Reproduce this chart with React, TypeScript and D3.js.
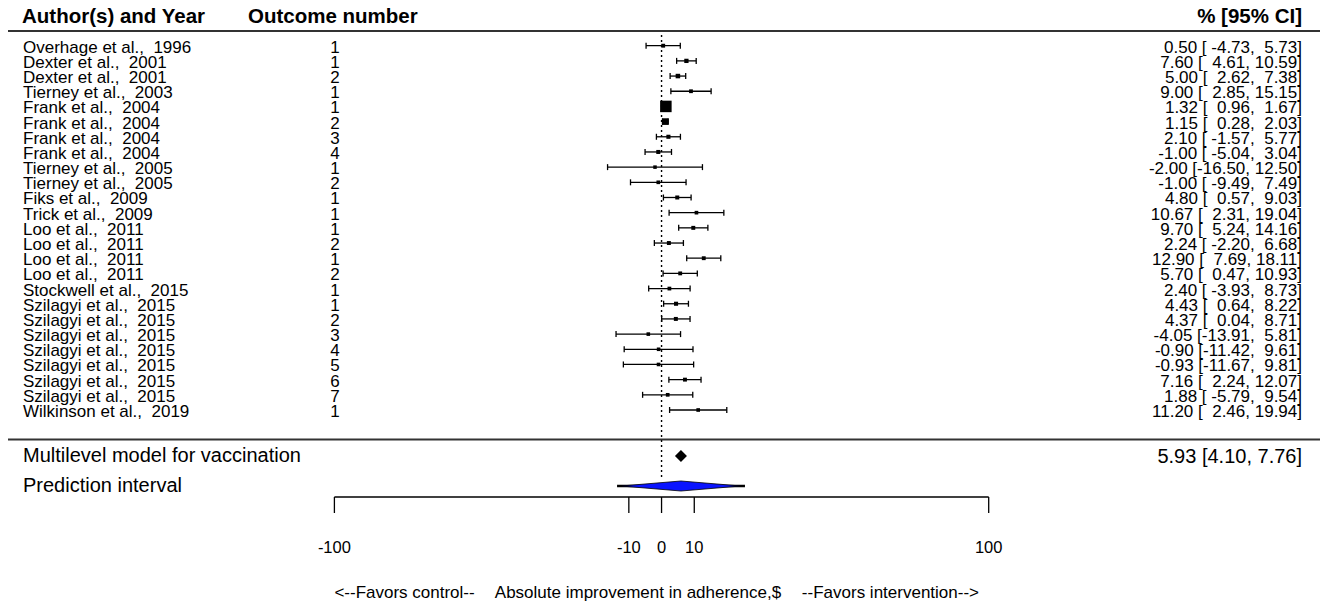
import React, { useEffect, useRef } from "react";
import * as d3 from "d3";

// study rows, top to bottom
const authors = [
  "Overhage et al.,  1996",
  "Dexter et al.,  2001",
  "Dexter et al.,  2001",
  "Tierney et al.,  2003",
  "Frank et al.,  2004",
  "Frank et al.,  2004",
  "Frank et al.,  2004",
  "Frank et al.,  2004",
  "Tierney et al.,  2005",
  "Tierney et al.,  2005",
  "Fiks et al.,  2009",
  "Trick et al.,  2009",
  "Loo et al.,  2011",
  "Loo et al.,  2011",
  "Loo et al.,  2011",
  "Loo et al.,  2011",
  "Stockwell et al.,  2015",
  "Szilagyi et al.,  2015",
  "Szilagyi et al.,  2015",
  "Szilagyi et al.,  2015",
  "Szilagyi et al.,  2015",
  "Szilagyi et al.,  2015",
  "Szilagyi et al.,  2015",
  "Szilagyi et al.,  2015",
  "Wilkinson et al.,  2019",
];
const outcomes = [1, 1, 2, 1, 1, 2, 3, 4, 1, 2, 1, 1, 1, 2, 1, 2, 1, 1, 2, 3, 4, 5, 6, 7, 1];
const estimates = [
  0.5, 7.6, 5.0, 9.0, 1.32, 1.15, 2.1, -1.0, -2.0, -1.0, 4.8, 10.67, 9.7, 2.24, 12.9, 5.7, 2.4,
  4.43, 4.37, -4.05, -0.9, -0.93, 7.16, 1.88, 11.2,
];
const lowers = [
  -4.73, 4.61, 2.62, 2.85, 0.96, 0.28, -1.57, -5.04, -16.5, -9.49, 0.57, 2.31, 5.24, -2.2, 7.69,
  0.47, -3.93, 0.64, 0.04, -13.91, -11.42, -11.67, 2.24, -5.79, 2.46,
];
const uppers = [
  5.73, 10.59, 7.38, 15.15, 1.67, 2.03, 5.77, 3.04, 12.5, 7.49, 9.03, 19.04, 14.16, 6.68, 18.11,
  10.93, 8.73, 8.22, 8.71, 5.81, 9.61, 9.81, 12.07, 9.54, 19.94,
];

// pooled model
const pooled = { est: 5.93, lo: 4.1, hi: 7.76 };
const predInterval = [-13.6, 25.5];

const tickValues = [-100, -10, 0, 10, 100];

const FONT = "'Liberation Sans', Arial, sans-serif";

function App() {
  const ref = useRef<SVGSVGElement | null>(null);

  useEffect(() => {
    const svg = d3.select(ref.current);
    svg.selectAll("*").remove();

    const W = 1320;
    const x = d3.scaleLinear().domain([-100, 100]).range([334.4, 988.7]);
    const y = d3.scaleLinear().domain([0, authors.length - 1]).range([45.7, 410]);
    // plain hyphen minus, like R prints it
    const fmt = (v: number) => v.toFixed(2);

    const rows = authors.map((a, i) => ({
      author: a,
      outcome: outcomes[i],
      est: estimates[i],
      lo: lowers[i],
      hi: uppers[i],
      prec: 3.92 / (uppers[i] - lowers[i]),
    }));
    const size = d3
      .scaleLinear()
      .domain(d3.extent(rows, (d) => d.prec) as [number, number])
      .range([3.5, 11.5]);

    const g = svg.append("g").style("font-family", FONT);

    // header
    g.append("text").attr("x", 22).attr("y", 23).style("font-size", "20.5px")
      .style("font-weight", "bold").text("Author(s) and Year");
    g.append("text").attr("x", 248).attr("y", 23).style("font-size", "20.5px")
      .style("font-weight", "bold").text("Outcome number");
    g.append("text").attr("x", 1302).attr("y", 23).attr("text-anchor", "end")
      .style("font-size", "20.5px").style("font-weight", "bold").text("% [95% CI]");

    g.append("line").attr("x1", 8).attr("x2", W).attr("y1", 31).attr("y2", 31)
      .attr("stroke", "#333").attr("stroke-width", 1.8);
    g.append("line").attr("x1", 8).attr("x2", W).attr("y1", 439.5).attr("y2", 439.5)
      .attr("stroke", "#333").attr("stroke-width", 1.8);

    // zero reference line
    g.append("line").attr("x1", x(0)).attr("x2", x(0)).attr("y1", 35).attr("y2", 480)
      .attr("stroke", "#000").attr("stroke-width", 1.4).attr("stroke-dasharray", "2,3");

    const row = g.selectAll("g.row").data(rows).join("g").attr("class", "row");

    row.append("text").attr("x", 23).attr("y", (d, i) => y(i) + 7)
      .style("font-size", "17px").style("white-space", "pre").text((d) => d.author);
    row.append("text").attr("x", 335).attr("y", (d, i) => y(i) + 7).attr("text-anchor", "middle")
      .style("font-size", "17px").text((d) => d.outcome);
    row.append("text").attr("x", 1302).attr("y", (d, i) => y(i) + 7).attr("text-anchor", "end")
      .style("font-size", "17px").style("white-space", "pre")
      .text((d) => `${fmt(d.est).padStart(5)} [${fmt(d.lo).padStart(6)}, ${fmt(d.hi).padStart(5)}]`);

    // CI whiskers
    row.append("line").attr("x1", (d) => x(d.lo)).attr("x2", (d) => x(d.hi))
      .attr("y1", (d, i) => y(i)).attr("y2", (d, i) => y(i))
      .attr("stroke", "#000").attr("stroke-width", 1.3);
    row.append("line").attr("x1", (d) => x(d.lo)).attr("x2", (d) => x(d.lo))
      .attr("y1", (d, i) => y(i) - 3).attr("y2", (d, i) => y(i) + 3)
      .attr("stroke", "#000").attr("stroke-width", 1.3);
    row.append("line").attr("x1", (d) => x(d.hi)).attr("x2", (d) => x(d.hi))
      .attr("y1", (d, i) => y(i) - 3).attr("y2", (d, i) => y(i) + 3)
      .attr("stroke", "#000").attr("stroke-width", 1.3);
    row.append("rect")
      .attr("x", (d) => x(d.est) - size(d.prec) / 2)
      .attr("y", (d, i) => y(i) - size(d.prec) / 2)
      .attr("width", (d) => size(d.prec))
      .attr("height", (d) => size(d.prec))
      .attr("fill", "#000");

    // pooled estimate
    const yModel = 456;
    g.append("text").attr("x", 23).attr("y", 462).style("font-size", "20px")
      .text("Multilevel model for vaccination");
    g.append("text").attr("x", 1302).attr("y", 463).attr("text-anchor", "end")
      .style("font-size", "20px").text(`${fmt(pooled.est)} [${fmt(pooled.lo)}, ${fmt(pooled.hi)}]`);
    g.append("polygon")
      .attr("points", [
        [x(pooled.lo), yModel], [x(pooled.est), yModel - 6],
        [x(pooled.hi), yModel], [x(pooled.est), yModel + 6],
      ].map((p) => p.join(",")).join(" "))
      .attr("fill", "#000");

    // prediction interval
    const yPi = 486;
    g.append("text").attr("x", 23).attr("y", 492).style("font-size", "20px")
      .text("Prediction interval");
    g.append("line").attr("x1", x(predInterval[0])).attr("x2", x(predInterval[1]))
      .attr("y1", yPi).attr("y2", yPi).attr("stroke", "#000").attr("stroke-width", 2.5);
    g.append("polygon")
      .attr("points", [
        [x(predInterval[0]) + 4, yPi], [x(pooled.est), yPi - 5],
        [x(predInterval[1]) - 4, yPi], [x(pooled.est), yPi + 5],
      ].map((p) => p.join(",")).join(" "))
      .attr("fill", "#0a14ff").attr("stroke", "#000").attr("stroke-width", 0.8);

    // axis
    const axisY = 497;
    g.append("line").attr("x1", x(-100)).attr("x2", x(100)).attr("y1", axisY).attr("y2", axisY)
      .attr("stroke", "#000").attr("stroke-width", 1.3);
    const tick = g.selectAll("g.tick").data(tickValues).join("g").attr("class", "tick");
    tick.append("line").attr("x1", (d) => x(d)).attr("x2", (d) => x(d))
      .attr("y1", axisY).attr("y2", axisY + 16).attr("stroke", "#000").attr("stroke-width", 1.3);
    tick.append("text").attr("x", (d) => x(d)).attr("y", 553).attr("text-anchor", "middle")
      .style("font-size", "16.5px").text((d) => d);

    // axis title in three pieces
    g.append("text").attr("x", x(-100)).attr("y", 598)
      .style("font-size", "17px").text("<--Favors control--");
    g.append("text").attr("x", 638).attr("y", 598).attr("text-anchor", "middle")
      .style("font-size", "17px").text("Absolute improvement in adherence,$");
    g.append("text").attr("x", 979).attr("y", 598).attr("text-anchor", "end")
      .style("font-size", "17px").text("--Favors intervention-->");
  }, []);

  return (
    <svg
      ref={ref}
      width={1320}
      height={605}
      style={{ position: "absolute", left: 0, top: 0, background: "#fff" }}
    />
  );
}

export default App;
